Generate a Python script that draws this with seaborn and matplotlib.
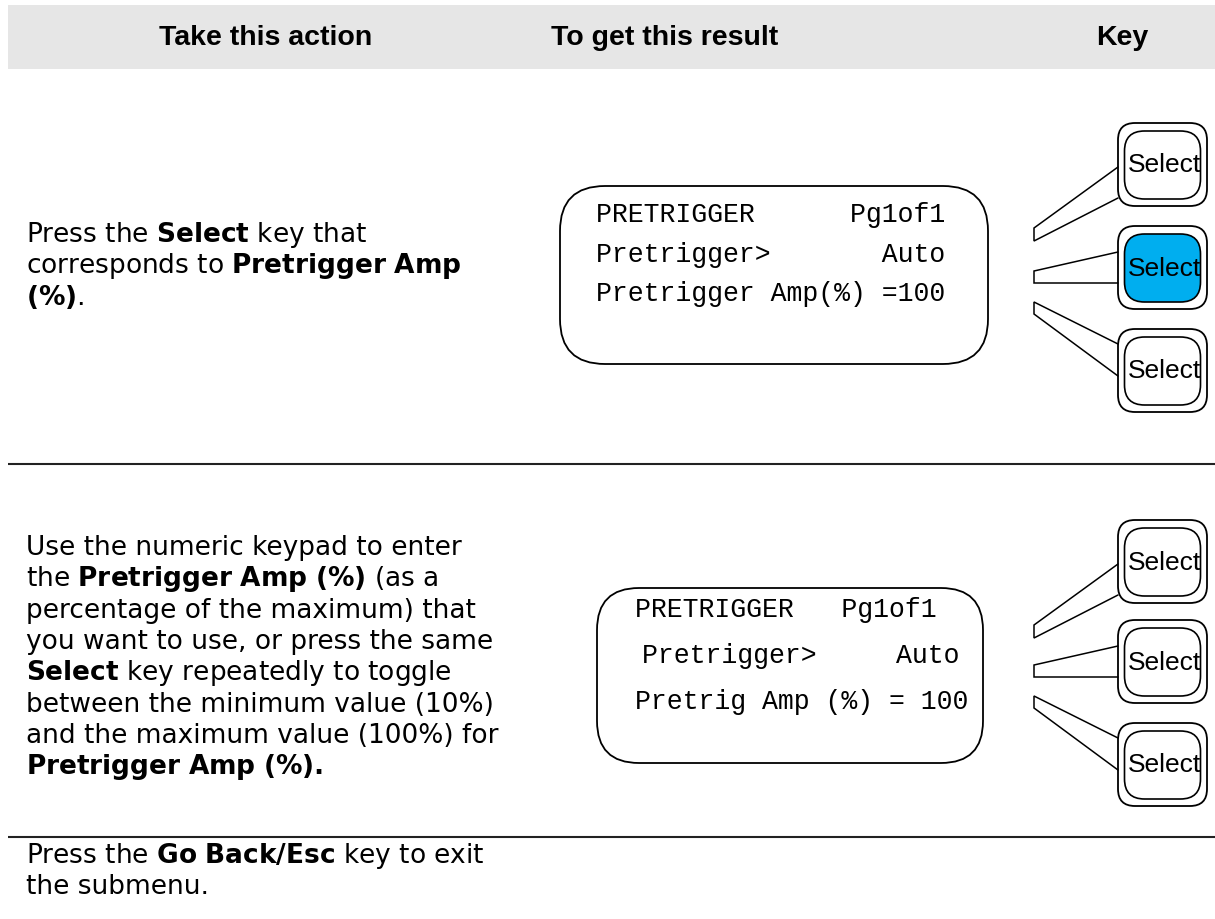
import matplotlib
matplotlib.use("Agg")
import matplotlib.pyplot as plt
from matplotlib import font_manager
from matplotlib.patches import FancyBboxPatch, Rectangle
import seaborn as sns

# ---- content ----
COLUMN_HEADERS = ["Take this action", "To get this result", "Key"]

ACTION_ROW1 = [
    r"Press the $\bf{Select}$ key that",
    r"corresponds to $\bf{Pretrigger\ Amp}$",
    r"$\bf{(\%)}$.",
]
ACTION_ROW2 = [
    "Use the numeric keypad to enter",
    r"the $\bf{Pretrigger\ Amp\ (\%)}$ (as a",
    "percentage of the maximum) that",
    "you want to use, or press the same",
    r"$\bf{Select}$ key repeatedly to toggle",
    "between the minimum value (10%)",
    "and the maximum value (100%) for",
    r"$\bf{Pretrigger\ Amp\ (\%).}$",
]
ACTION_ROW3 = [
    r"Press the $\bf{Go\ Back/Esc}$ key to exit",
    "the submenu.",
]

DISPLAY_ROW1 = ["PRETRIGGER      Pg1of1", "Pretrigger>       Auto", "Pretrigger Amp(%) =100"]
DISPLAY_ROW2 = ["PRETRIGGER   Pg1of1", "Pretrigger>     Auto", "Pretrig Amp (%) = 100"]

KEY_LABEL = "Select"
HIGHLIGHT_KEY = [1, None]   # which Select key is lit in each row

# ---- layout (pixels, 1 unit = 1 px) ----
W, H = 1215, 919
ACTION_X = 26
ACTION_BASE = [242, 555, 863]
LINE_STEP = 31.3
SEP_Y = [464, 837]

BOXES = [
    dict(x0=560, y0=186, x1=988, y1=364, r=45, tx=[596, 596, 596], ty=[222, 262, 301]),
    dict(x0=597, y0=588, x1=983, y1=763, r=42, tx=[635, 642, 635], ty=[617, 663, 709]),
]
KEY_TOPS = [[123, 226, 329], [520, 620, 723]]
KEY_X0, KEY_X1, KEY_H = 1118, 1207, 83
WEDGE_X = 1034
# (hit1, hit2, left1, left2) relative to each key's top edge
WEDGES = [(44, 75, 105, 118), (26, 57, 45, 57), (15, 47, -27, -15)]

BLUE = "#00aeef"

sns.set_theme(style="white")
plt.rcParams["font.family"] = ["DejaVu Sans"]
plt.rcParams["text.color"] = "black"
plt.rcParams["mathtext.fontset"] = "custom"
plt.rcParams["mathtext.rm"] = "DejaVu Sans"
plt.rcParams["mathtext.bf"] = "DejaVu Sans:bold"

# key caps use a condensed face when one is available
installed = {f.name for f in font_manager.fontManager.ttflist}
if "Liberation Sans Narrow" in installed:
    key_font, key_size = "Liberation Sans Narrow", 21.5
else:
    key_font, key_size = "Liberation Sans", 19

fig = plt.figure(figsize=(W / 100, H / 100), dpi=100)
ax = fig.add_axes([0, 0, 1, 1])
ax.set_xlim(0, W)
ax.set_ylim(H, 0)
ax.axis("off")

# header band
ax.add_patch(Rectangle((8, 5), W - 8, 64, facecolor="#e6e6e6", edgecolor="none"))
for label, cx in zip(COLUMN_HEADERS, [266, 665, 1122]):
    ax.text(cx, 45, label, ha="center", va="baseline", fontsize=20.5,
            fontweight="bold", family="Liberation Sans", color="black")

# row separators
for y in SEP_Y:
    ax.plot([8, W], [y, y], color="#222222", lw=1.5, solid_capstyle="butt")

# action text
for lines, base in zip([ACTION_ROW1, ACTION_ROW2, ACTION_ROW3], ACTION_BASE):
    for i, s in enumerate(lines):
        ax.text(ACTION_X, base + i * LINE_STEP, s, ha="left", va="baseline",
                fontsize=19, color="black")

# display boxes
for box, lines in zip(BOXES, [DISPLAY_ROW1, DISPLAY_ROW2]):
    ax.add_patch(FancyBboxPatch((box["x0"], box["y0"]), box["x1"] - box["x0"],
                                box["y1"] - box["y0"],
                                boxstyle=f"round,pad=0,rounding_size={box['r']}",
                                facecolor="white", edgecolor="black", lw=1.3))
    for s, tx, ty in zip(lines, box["tx"], box["ty"]):
        ax.text(tx, ty, s, ha="left", va="baseline", fontsize=19.1,
                family="Liberation Mono", color="black")

# Select keys with wedge connectors
for row, tops in enumerate(KEY_TOPS):
    for k, top in enumerate(tops):
        ax.add_patch(FancyBboxPatch((KEY_X0, top), KEY_X1 - KEY_X0, KEY_H,
                                    boxstyle="round,pad=0,rounding_size=17",
                                    facecolor="white", edgecolor="black", lw=1.3))
        lit = HIGHLIGHT_KEY[row] == k
        ax.add_patch(FancyBboxPatch((KEY_X0 + 6.5, top + 8), KEY_X1 - KEY_X0 - 13, KEY_H - 15,
                                    boxstyle="round,pad=0,rounding_size=20",
                                    facecolor=BLUE if lit else "white",
                                    edgecolor="black", lw=1.2))
        ax.text((KEY_X0 + KEY_X1) / 2 + 2, top + KEY_H / 2 + 1, KEY_LABEL,
                ha="center", va="center", fontsize=key_size, family=key_font,
                color="black")
        h1, h2, l1, l2 = WEDGES[k]
        ax.plot([KEY_X0, WEDGE_X, WEDGE_X, KEY_X0],
                [top + h1, top + l1, top + l2, top + h2],
                color="black", lw=1.1, solid_joinstyle="miter")

fig.savefig("out.png", dpi=100)
